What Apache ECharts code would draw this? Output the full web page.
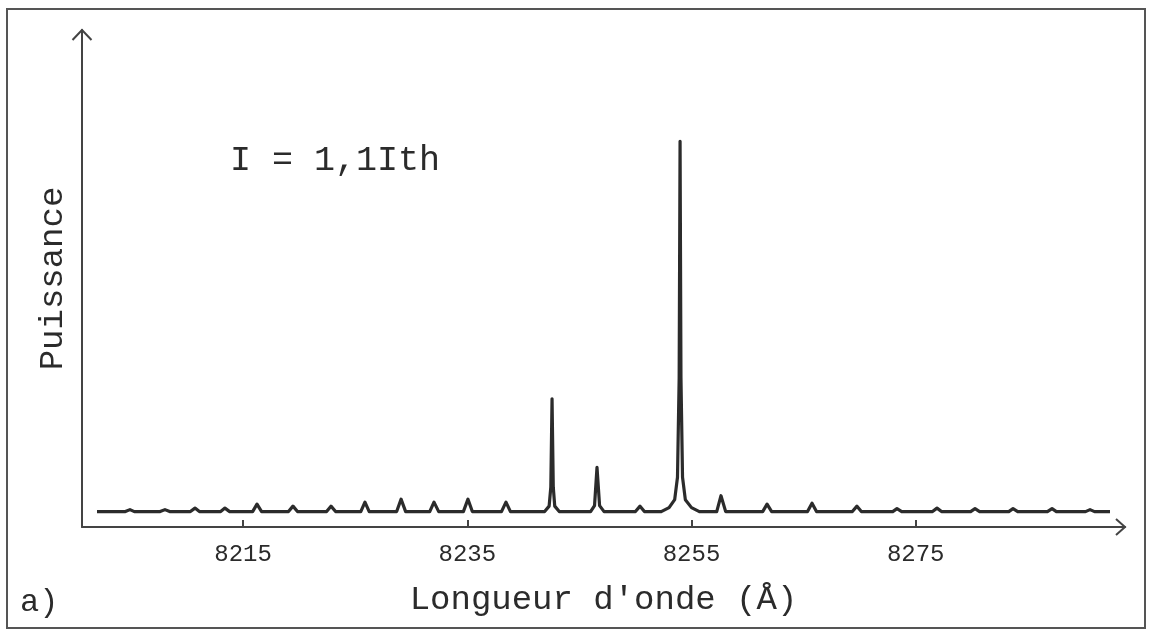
<!DOCTYPE html>
<html>
<head>
<meta charset="utf-8">
<script src="https://cdn.jsdelivr.net/npm/echarts@6/dist/echarts.min.js"></script>
<style>
html,body{margin:0;padding:0;background:#fff;}
#chart{width:1150px;height:637px;}
</style>
</head>
<body>
<div id="chart"></div>
<script>
// Wavelength (Å) of each sampled point of the spectrum trace
const wavelength = [
  8201.97,
  8204.50, 8204.91, 8205.30,
  8207.60, 8208.03, 8208.45,
  8210.30, 8210.71, 8211.10,
  8213.00, 8213.38, 8213.80,
  8215.85, 8216.24, 8216.65,
  8219.05, 8219.45, 8219.85,
  8222.45, 8222.84, 8223.25,
  8225.50, 8225.87, 8226.25,
  8228.70, 8229.09, 8229.50,
  8231.65, 8232.03, 8232.45,
  8234.65, 8235.06, 8235.45,
  8238.05, 8238.45, 8238.85,
  8241.90, 8242.30, 8242.45, 8242.56, 8242.67, 8242.80, 8243.20,
  8246.00, 8246.35, 8246.57, 8246.80, 8247.20,
  8250.00, 8250.41, 8250.80,
  8252.30, 8253.00, 8253.50, 8253.75, 8253.90, 8253.98, 8254.06, 8254.20, 8254.45, 8255.00, 8255.70,
  8257.25, 8257.63, 8258.05,
  8261.35, 8261.74, 8262.15,
  8265.35, 8265.75, 8266.15,
  8269.35, 8269.76, 8270.15,
  8272.95, 8273.33, 8273.75,
  8276.50, 8276.90, 8277.30,
  8279.90, 8280.29, 8280.70,
  8283.30, 8283.68, 8284.10,
  8286.75, 8287.16, 8287.55,
  8290.15, 8290.55, 8290.95,
  8292.33
];
// Power (arbitrary units) at each sampled point
const power = [
  3.1,
  3.1, 3.5, 3.1,
  3.1, 3.5, 3.1,
  3.1, 3.8, 3.1,
  3.1, 3.8, 3.1,
  3.1, 4.6, 3.1,
  3.1, 4.2, 3.1,
  3.1, 4.2, 3.1,
  3.1, 5.0, 3.1,
  3.1, 5.6, 3.1,
  3.1, 5.0, 3.1,
  3.1, 5.6, 3.1,
  3.1, 5.0, 3.1,
  3.1, 4.2, 8.0, 25.8, 8.0, 4.2, 3.1,
  3.1, 4.3, 12.0, 4.3, 3.1,
  3.1, 4.2, 3.1,
  3.1, 3.9, 5.5, 10.0, 30.0, 77.6, 30.0, 10.0, 5.5, 3.9, 3.1,
  3.1, 6.3, 3.1,
  3.1, 4.6, 3.1,
  3.1, 4.8, 3.1,
  3.1, 4.2, 3.1,
  3.1, 3.7, 3.1,
  3.1, 3.8, 3.1,
  3.1, 3.7, 3.1,
  3.1, 3.7, 3.1,
  3.1, 3.7, 3.1,
  3.1, 3.5, 3.1,
  3.1
];
// Tick labels on the wavelength axis
const xTicks = [8215, 8235, 8255, 8275];
const xRange = [8200.63, 8293.67];
const yRange = [0, 100];
const xTitle = "Longueur d'onde (Å)";
const yTitle = "Puissance";
const note = "I = 1,1Ith";
const panel = "a)";

const ink = '#2b2b2b';
const font = '"Liberation Mono", "DejaVu Sans Mono", monospace';

const chart = echarts.init(document.getElementById('chart'), null, {renderer: 'canvas'});
const points = wavelength.map((w, i) => [w, power[i]]);

chart.setOption({
  animation: false,
  backgroundColor: '#ffffff',
  grid: {left: 82, right: 25, top: 30, bottom: 110, containLabel: false},
  xAxis: {
    type: 'value',
    min: xRange[0], max: xRange[1],
    name: xTitle,
    nameLocation: 'middle',
    nameGap: 56,
    nameTextStyle: {fontFamily: font, fontSize: 34, color: ink},
    axisLine: {show: true, lineStyle: {color: '#444', width: 2}},
    axisTick: {show: true, inside: true, length: 7, customValues: xTicks, lineStyle: {color: '#444', width: 2}},
    axisLabel: {show: true, customValues: xTicks, margin: 16, fontFamily: font, fontSize: 24, color: ink,
      formatter: v => String(Math.round(v))},
    splitLine: {show: false}
  },
  yAxis: {
    type: 'value',
    min: yRange[0], max: yRange[1],
    name: yTitle,
    nameLocation: 'middle',
    nameGap: 12,
    nameRotate: 90,
    nameTextStyle: {fontFamily: font, fontSize: 34, color: ink},
    axisLine: {show: true, lineStyle: {color: '#444', width: 2}},
    axisTick: {show: false},
    axisLabel: {show: false},
    splitLine: {show: false}
  },
  series: [{
    type: 'line',
    data: points,
    showSymbol: false,
    smooth: false,
    lineStyle: {color: ink, width: 3.2, join: 'round'},
    silent: true
  }],
  graphic: [
    {type: 'rect', shape: {x: 7, y: 9, width: 1138, height: 619}, style: {fill: 'none', stroke: '#555', lineWidth: 2}, silent: true},
    {type: 'polyline', shape: {points: [[72.5, 40], [82, 30], [91.5, 40]]}, style: {fill: 'none', stroke: '#444', lineWidth: 2}, silent: true},
    {type: 'polyline', shape: {points: [[1116, 519], [1125, 527], [1116, 535]]}, style: {fill: 'none', stroke: '#444', lineWidth: 2}, silent: true},
    {type: 'text', left: 230, top: 143, style: {text: note, font: '35px ' + font, fill: ink}, silent: true},
    {type: 'text', left: 20, top: 587, style: {text: panel, font: '32px ' + font, fill: ink}, silent: true}
  ]
});
</script>
</body>
</html>
